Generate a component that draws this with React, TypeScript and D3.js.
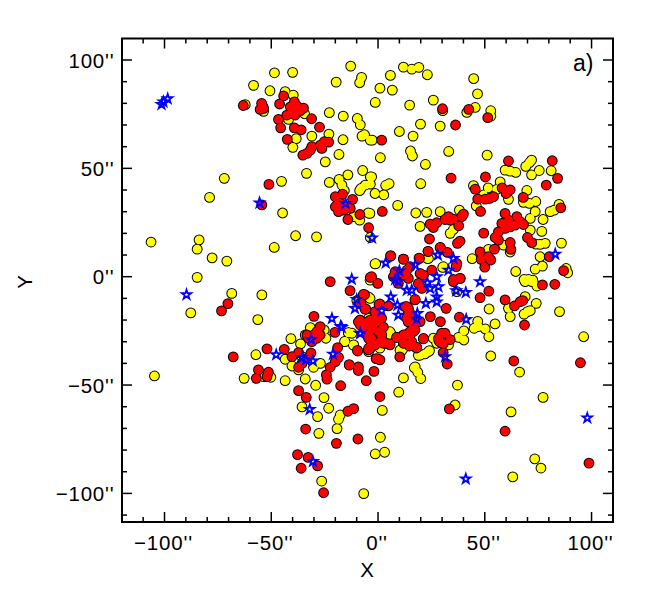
import React from 'react';
import * as d3 from 'd3';

type Pt = [number, number];

// offsets in arcsec. yellow first, then red, stars on top
const yellowPts: Pt[] = [
  [-12.8,97.2],[-48.5,94.1],[-40,94.3],[-7.7,92],[-8.6,89.5],[-19.6,89.8],[-58.3,88.3],[-50.6,85.8],[-43.5,85.4],[-39.7,83.8],
  [-62.2,79.4],[-53.6,76.3],[-34.4,75.2],[-22.8,75.7],[-16.3,74.1],[-9.7,73],[-8.3,70.1],[-41.9,72.6],[-23,65.8],[-31,64.9],
  [-38.3,63.7],[-16.4,63.2],[-7.5,64.9],[-6.3,65.5],[-3.6,63],[-39.9,59.7],[-18.3,56.4],[-24.7,53],[-7.2,49],[-33.5,47.7],
  [-14.1,47],[-22.8,43.5],[-18.2,44.9],[-16.9,42.3],[-15.8,39.7],[-8,40.7],[-6,42.3],[-3.6,42.7],[-8.6,39.7],[-3.6,46.1],
  [-72,45.4],[-45.2,44],[-78.9,36.6],[-44.7,29.4],[-4.6,29.4],[-11.4,27.7],[-8.6,26.1],[-38.6,18.9],[-28.8,18.4],[-48.6,13.5],
  [-83.8,17],[-84.7,12.7],[-77.7,8.7],[-70.8,7.2],[-106.3,16],[-84.7,-0.3],[-3.6,18.1],
  [11.9,96.7],[15.8,95.8],[19.1,96.6],[23.1,93.2],[5.8,92.9],[0.9,87],[6.7,86.1],[-1.3,80.4],[14.8,79.2],[25.9,81.5],
  [44.8,91.4],[46.6,84.4],[45.5,78.1],[41.6,75.8],[52.8,76.6],[52.8,74.1],[30.3,76.6],[19.9,70.4],[29.1,69.5],[10,67],
  [16.4,64.9],[-2.7,63],[15.2,58],[16.1,55.7],[33.1,57.8],[51.1,56.1],[1.1,54.9],[22.2,51.8],[-3,46.1],[5.2,42.9],
  [3.6,42.1],[20,42.9],[-1.4,38.4],[2.7,37.8],[9.2,32.9],[17.7,29.4],[22.8,29.7],[29.1,30],[-3.8,29.2],[19.7,23.2],
  [38.1,30.7],[33.8,20],[35.3,21.8],[44.1,8.3],[51.7,12.6],[23.1,8.4],[30.3,4.3],[-1.4,5.9],
  [59.5,49.2],[61.9,48.7],[64.5,48.1],[69.2,50.9],[70.9,52.6],[71.9,53.8],[71.9,47],[75.5,49],[81.1,48.9],[44.7,42],
  [51.6,41],[57.2,43.8],[55.6,40.3],[49.4,37.7],[61.1,35.7],[69.7,39.8],[68.1,34.3],[70.9,33.8],[73.9,34.7],[46,32.7],
  [73.6,30],[71.3,26.9],[77.3,26.4],[80.6,30],[82.5,30.7],[84.8,33.4],[71.3,21.5],[76.7,20.9],[78.3,15.4],[75.9,14.9],
  [73.9,15],[58.8,14.6],[61.9,11.4],[85.9,15.5],[75.9,9.2],[77,4.9],[73.6,3.5],[64.5,2.4],[88.1,3.8],[88.8,1.8],
  [70.5,-1.3],[68.4,-1.3],[72.5,-1.6],
  [-68.5,-7.7],[-54.4,-8.4],[-87.7,-16.7],[-56.3,-19.8],[-104.7,-45.8],[-40.8,-28.6],[-57.2,-36],[-36.3,-31],[-62.7,-46.9],[-50.2,-46.4],
  [-53.6,-46.1],[-43.5,-48],[-34.1,-47.2],[-29.2,-50.1],[-25.3,-55.8],[-35.6,-60.1],[-23.1,-60.7],[-28.3,-64.6],[-17.7,-63.8],[-18.5,-65.8],
  [-19.2,-70.1],[-27.7,-72.3],[-26.4,-94.3],[-6.7,-100.1],[-15.6,-29.8],[-13.8,-25.8],[-12.2,-26.1],[-11.4,-31.5],[-43.5,-38.1],[-31.7,-23.5],
  [-25.2,-24.6],[-24.4,-28.4],[-34.1,-26.9],[-40.3,-41.2],[-37.2,-43],[-27,-40],[-30.2,-41.8],[-35.6,-36.9],[-7.5,-20.7],[-4.4,-19.2],
  [-4.4,-34.6],[-9.9,-11],
  [85,-16.1],[96.3,-27.7],[52,-14.9],[68.9,-9.2],[74.1,-12.3],[61.1,-14.6],[61.9,-18.4],[71.3,-15.7],[68.4,-17.3],[70,-16.1],
  [54.8,-21.8],[46.7,-20.6],[45,-23.8],[47,-23],[50.2,-24.1],[51.9,-27.7],[40.2,-25],[37.7,-28],[40.2,-29.2],[25.9,-28.4],
  [27.5,-30.7],[33,-31.5],[24.1,-34.1],[22,-35.6],[18.9,-36.3],[11.9,-33],[11.1,-34.1],[5.9,-26.1],[52.8,-36.6],[66.3,-44],
  [17,-42],[18.6,-44.1],[20,-47],[11.9,-46.7],[37.2,-50],[9.7,-53.3],[2,-61.7],[36.1,-59.2],[77.3,-55.7],[62.3,-62.4],
  [1.1,-74.1],[-1.3,-81.8],[3.1,-81],[73.4,-84.1],[76.3,-88.3],[63.1,-92.4],[0.9,-33],[68.9,-2.3],[72,-2.3],[74.4,-4.3],
  [36.9,-6.9],[-3.75,-10],
  [-1.1,6],[23.6,8.4],[30.6,4.6],[-4.5,-9.3],[-3.7,-1.6],[-13.9,-25.9],[-15.5,-30],[-11.5,-31.6],[-8.4,-20],[5.6,-25.4],
  [4.1,-27.7],[10.3,-33.9],[11.9,-31.6],[17.4,-41.6],[19.7,-36.2],[23.6,-34.6],
];

const redPts: Pt[] = [
  [-63.1,79],[-54.5,80],[-53.9,78.4],[-55.2,77.2],[-53.6,77.7],[-46.1,79.7],[-44.2,83.4],[-39.2,80.7],[-41.1,78.4],[-38,78.7],
  [-40.3,76.1],[-38.8,74.6],[-42.7,74.6],[-36.4,76.6],[-34.9,77.8],[-31.1,72.9],[-46.6,72.6],[-45.6,68.7],[-39.2,68.7],[-36,67.8],
  [-27.4,69],[-42.5,63.4],[-23.1,62.1],[-25.2,62.3],[-27,60.7],[-26.3,59.2],[-31,60],[-31.7,58.4],[-33.3,56.9],[-35.2,56.1],
  [-51.1,42.6],[-54.4,33.1],[-20,36.9],[-16.6,38.1],[-11.9,35.7],[-19.2,33],[-16.1,30.7],[-18.5,30],[-14.6,32.3],[-13,31.5],
  [-14.1,26.4],[-20,32.3],[-17.7,33.8],[-8.5,28.7],[-4.4,22.6],[-22.4,-2.3],[-3.6,-0.3],
  [30.2,77.5],[42.5,77.2],[36.3,70],[51.4,73.4],[1.7,63],[34.2,45.5],[50.3,46],[61.1,53.4],[81.6,53.5],
  [84.1,45.4],[78.8,42.3],[45.5,40.4],[58.1,41],[61.9,40.1],[60,38.4],[68,36.6],[46.7,35.8],[50.2,35.8],[52.2,36.1],
  [54.1,36.9],[48,30.1],[85.6,31.8],[2,30.1],[40,28.9],[39.2,27.7],[31.4,26.4],[33.8,26.1],[35.3,26.6],[33,27.7],
  [24.4,24.3],[25.9,22.7],[27.5,24.9],[37.8,23.5],[24.1,17.4],[38.4,16.4],[37.2,15.4],[29.1,13.4],[23.4,11.7],[32.5,11.2],
  [19.4,8.4],[11.9,8.1],[5.9,9.7],[59.5,29.2],[65,27.7],[61.1,26.1],[58,24.6],[59.5,22.3],[56.4,20.7],[54.9,18.1],
  [56.4,16.9],[64.2,23.8],[68.1,24.1],[61.9,23],[66.6,25.4],[49.5,20.1],[70,18.1],[72,15.7],[61.9,15.8],[62.2,12.6],
  [54.5,12.7],[47.8,11.4],[48.3,8],[51.7,9.2],[52.8,7.7],[50,4.4],[80.2,9.2],[86.9,2.8],[36.9,6.1],[36.6,4.6],
  [38.4,-0.8],[35.3,-1.3],
  [-70.3,-12.4],[-73.3,-15.8],[-30,-18.3],[-13.1,-6.4],[-6.3,-8.3],[-5.7,-14.9],[-8,-12.3],[-20.2,-25.7],[-27.1,-23],[-28.6,-25.3],
  [-30.2,-26.9],[-27.1,-26.9],[-32.5,-28.4],[-31,-30],[-28.6,-28.4],[-33.3,-26.9],[-52,-33.3],[-43.9,-33.5],[-67.8,-37],[-40.3,-36.9],
  [-37.2,-35],[-31.4,-35.2],[-33.3,-37.7],[-35.6,-40],[-37.2,-41.8],[-18.9,-32.7],[-18.5,-37.2],[-20,-39.2],[-22.4,-41.8],[-24.2,-45.3],
  [-23.9,-47.3],[-9.6,-34],[-13.5,-40.6],[-9.2,-43.3],[-5.5,-48],[-17.5,-50.3],[-56,-43],[-57,-46.9],[-51.3,-44.1],[-52,-46.1],
  [-37.2,-52.6],[-33.6,-55.7],[-14.1,-62.1],[-11.4,-60.9],[-33.9,-70.3],[-19.5,-76.9],[-9.4,-74.9],[-37.7,-82.1],[-32.7,-83.4],[-36,-88.4],
  [-28.3,-87.3],[-25.5,-99.7],[-8.3,-22.3],[-6,-21.5],[-4.4,-23],[-4.4,-26.9],[-3.6,-28.4],[-4.4,-33],
  [77,-3.8],[82.8,-3.5],[51.9,-6.7],[47.8,-9.7],[59.5,-10.7],[63.9,-13.5],[66.6,-11.5],[67.8,-11],[31.9,-14.6],[38.1,-18.7],
  [24.5,-18.4],[29.2,-20.7],[68.6,-22.3],[29.8,-26.1],[31.4,-26.1],[28.6,-29.7],[29.5,-30.4],[33.8,-29],[21.25,-28.7],[18,-32.9],
  [10.2,-37],[30.5,-35],[32.4,-40.3],[63.6,-38.9],[94.8,-39.7],[0.9,-55.3],[33.4,-61],[59.5,-71.3],[98.8,-86],[-1.9,-43.7],
  [-0.9,-37.8],[0.9,-38.4],
  [16.6,-25.3],[15,-26.9],[12.7,-26.9],[8.75,-28],[15.8,-30],[14.7,-32],[5.6,-31],[2.5,-30.7],[0.9,-30],[-1.4,-31.5],
  [-3,-28.4],[1.7,-26.9],[2.5,-23.3],[-0.6,-20.7],[-3,-20.7],[-1.4,-16.1],[0.9,-12.6],[4.9,-13.5],[0.2,-19.2],[17.3,-10.7],
  [12.7,-13.8],[14.2,-14.6],[15,-16.9],[13.4,-19.2],[15.8,-20.7],[14.2,-20.7],[17.3,-24.6],[19.7,-20.7],
  [5.95,9.5],[11.9,8.1],[19.2,8.6],[23.5,11.7],[29.2,13.5],[-3,0],[-0.1,-3.1],[-6.9,-8.2],[-6.1,-15],[-8.4,-12.3],
  [0.5,-12.8],[13.5,3],[11.9,0.8],[14.2,-0.8],[9.5,-3.1],[7.2,0],[15,4.6],[8,2.3],[19.7,1.5],[21.3,0.7],
  [25.2,3],[18.9,-3.1],[20.5,-5.4],[17.4,-10.5],[35.3,-2.3],[38.5,-0.8],[-3.7,-20],[-5.3,-23.9],[-2.2,-23.9],[-3.7,-29.3],
  [-3.7,-33.1],[-9.2,-20.8],[-9.5,-34.3],[-13.4,-40.8],[-9.2,-41.6],[4.1,-30.8],[18.1,-32.6],[21.3,-28.5],[28.3,-28.5],[30.6,-30.8],
  [-8.4,-20],[-4.5,-20.7],[-1.4,-19.2],[1.7,-19.2],[-6.9,-23],[-3,-23.8],[0.2,-25.3],[-4.5,-28.4],[1.7,-26.9],[-2.2,-31.5],
  [-4.5,-33.8],[2.5,-29.9],[5.6,-31.5],[8.8,-28],[11.9,-26.9],[15,-25.3],[16.6,-23],[14.2,-20.7],[14.2,-16.9],[15.8,-19.2],
  [13.5,-13.8],[11.9,-30.7],[15,-31.5],[18,-32.6],[-0.1,-37.9],
];

const starPts: Pt[] = [
  [-101.4,79.5],[-100.5,80.7],[-98.5,82.1],[-55.5,34.1],[-15.2,33.8],[-2.8,17.9],[-89.7,-8.3],[-21.6,-19.3],[-17.5,-22.9],[-8.3,-26.1],
  [-31.3,-28.9],[-47.7,-36],[-35.6,-37.3],[-33.9,-38.4],[-30.5,-38.9],[-21.1,-35.7],[-32,-61.2],[-30.5,-85.2],[-12.3,-1.1],[41.1,-93.3],
  [98,-65.2],[3.6,6.4],[10,2.7],[8,-1.3],[9.5,-2.3],[17.4,5.4],[28,10],[35.3,8.4],[33,3],[27.5,0],
  [23.1,-2.8],[24.4,-5.4],[28.3,-4.6],[13.5,-6.2],[15.8,-6.2],[36.6,-6.5],[41.1,-7.3],[6,-9.3],[-10,-10.5],[-10.8,-14.6],
  [1.7,-15.7],[9.1,-13.1],[9.5,-17.7],[22.4,-12.3],[27.5,-9.3],[27.5,-11.6],[18.4,-17],[18.1,-19.6],[-8.4,-26.2],[-17,-23.4],
  [41.3,-19.7],[31.4,-36.9],[47.8,-2.3],[83,10.4],
];

const xMajor = [-100, -50, 0, 50, 100];
const yMajor = [-100, -50, 0, 50, 100];
const xMinor = d3.range(-110, 111, 10);
const yMinor = d3.range(-110, 110, 10);

const fontFamily = '"Liberation Sans", sans-serif';

const App = () => {
  const left = 122, right = 613, top = 38.5, bottom = 522;
  const x = d3.scaleLinear().domain([-120, 110]).range([121.8, 612.9]);
  const y = d3.scaleLinear().domain([0, 100]).range([276.7, 60]);
  const star = d3.symbol().type(d3.symbolStar).size(27)() as string;
  const fmt = (v: number) => (v < 0 ? '\u2212' + Math.abs(v) : String(v)) + "''";

  const tickLen = (v: number, major: number[]) => (major.includes(v) ? 10 : 5);

  // outlines go down first, then the fills, so overlapping dots merge into one blob
  const dots = (pts: Pt[], color: string, id: string) => (
    <g>
      {pts.map((d, i) => (
        <circle key={id + 'o' + i} cx={x(d[0])} cy={y(d[1])} r={5.4} fill="#000" />
      ))}
      {pts.map((d, i) => (
        <circle key={id + 'f' + i} cx={x(d[0])} cy={y(d[1])} r={4.4} fill={color} />
      ))}
    </g>
  );

  return (
    <svg width={650} height={600} style={{ position: 'absolute', left: 0, top: 0 }} fontFamily={fontFamily}>
      <rect width={650} height={600} fill="#fff" />

      {dots(yellowPts, '#ffff00', 'y')}
      {dots(redPts, '#ff0000', 'r')}
      {starPts.map((d, i) => (
        <path key={'s' + i} d={star} transform={`translate(${x(d[0])},${y(d[1])})`} fill="none" stroke="#0000ff" strokeWidth={1.8} />
      ))}

      <rect x={left} y={top} width={right - left} height={bottom - top} fill="none" stroke="#000" strokeWidth={2} />

      {xMinor.map(v => (
        <g key={v} stroke="#000" strokeWidth={1.5}>
          <line x1={x(v)} x2={x(v)} y1={bottom} y2={bottom - tickLen(v, xMajor)} />
          <line x1={x(v)} x2={x(v)} y1={top} y2={top + tickLen(v, xMajor)} />
        </g>
      ))}
      {yMinor.map(v => (
        <g key={v} stroke="#000" strokeWidth={1.5}>
          <line x1={left} x2={left + tickLen(v, yMajor)} y1={y(v)} y2={y(v)} />
          <line x1={right} x2={right - tickLen(v, yMajor)} y1={y(v)} y2={y(v)} />
        </g>
      ))}

      {xMajor.map(v => (
        <text key={v} x={x(v) - 1} y={550} textAnchor="middle" fontSize={20.5} letterSpacing={0.8}>{fmt(v)}</text>
      ))}
      {yMajor.map(v => (
        <text key={v} x={114.5} y={y(v) + 7.5} textAnchor="end" fontSize={20.5} letterSpacing={0.8}>{fmt(v)}</text>
      ))}

      <text x={367} y={577} textAnchor="middle" fontSize={20.5}>X</text>
      <text transform="translate(32,282) rotate(-90)" textAnchor="middle" fontSize={20.5}>Y</text>
      <text x={573} y={71} fontSize={23}>a)</text>
    </svg>
  );
};

export default App;
